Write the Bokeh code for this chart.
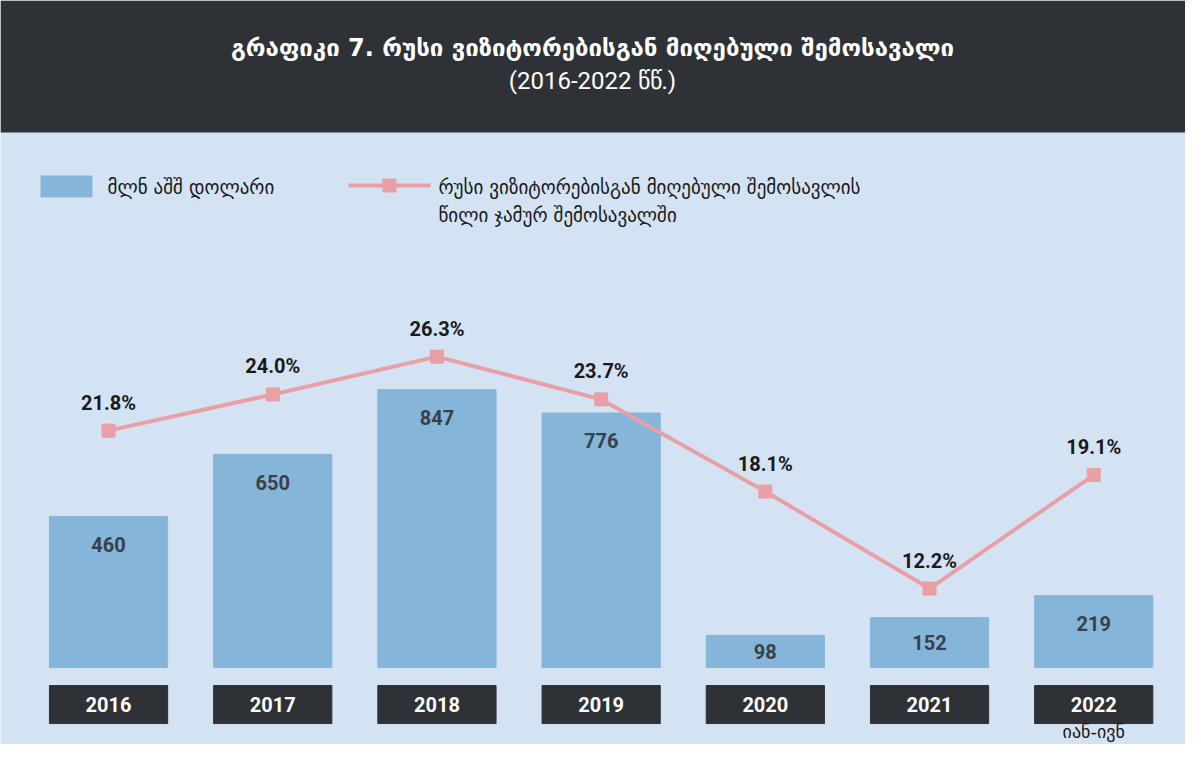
from bokeh.plotting import figure
from bokeh.models import Range1d, BoxAnnotation, Label, ColumnDataSource
from bokeh.embed import file_html
from bokeh.resources import INLINE
from bokeh.core.properties import value

years = ["2016", "2017", "2018", "2019", "2020", "2021", "2022"]
revenue = [460, 650, 847, 776, 98, 152, 219]
share = [21.8, 24.0, 26.3, 23.7, 18.1, 12.2, 19.1]
title = "გრაფიკი 7. რუსი ვიზიტორებისგან მიღებული შემოსავალი"
subtitle = "(2016-2022 წწ.)"
leg_bar = "მლნ აშშ დოლარი"
leg_line = ["რუსი ვიზიტორებისგან მიღებული შემოსავლის", "წილი ჯამურ შემოსავალში"]
note = "იან-ივნ"

W, H = 1185, 744
GEO = "DejaVu Sans"
NUM = "Roboto"
BG = "#d4e3f3"; DARK = "#2e3136"; BAR = "#85b6d9"; LINE = "#e8a0a6"

p = figure(width=W, height=H, output_backend="svg", toolbar_location=None,
           x_range=Range1d(-0.658, -0.658 + W / 164.2),
           y_range=Range1d(-234.8, 2033.5), min_border=0)
p.axis.visible = False
p.grid.visible = False
p.outline_line_color = None
p.background_fill_color = BG
p.border_fill_color = BG
p.extra_y_ranges = {"pct": Range1d(2.72, 47.95)}

x = list(range(len(years)))
src = ColumnDataSource(dict(
    x=x, rev=revenue, share=share, year=years,
    rev_lbl=[str(v) for v in revenue],
    rev_y=[max(v - 85, v / 2) for v in revenue],
    pct_lbl=[f"{v:.1f}%" for v in share],
    pct_y=[v + 1.7 for v in share],
    yb=[-113] * len(years)))

p.vbar(x="x", top="rev", bottom=0, width=0.72, color=BAR, source=src)
p.text(x="x", y="rev_y", text="rev_lbl", source=src, text_align="center",
       text_baseline="middle", text_font=value(NUM), text_font_size="20px",
       text_font_style="bold", text_color="#3a4048")
p.rect(x="x", y="yb", width=0.72, height=116, color=DARK, source=src)
p.text(x="x", y="yb", text="year", source=src, text_align="center",
       text_baseline="middle", text_font=value(NUM), text_font_size="20px",
       text_font_style="bold", text_color="white")

p.line(x="x", y="share", y_range_name="pct", source=src, line_color=LINE, line_width=4)
p.scatter(x="x", y="share", y_range_name="pct", source=src, marker="square",
          size=13, color=LINE)
p.text(x="x", y="pct_y", y_range_name="pct", text="pct_lbl", source=src,
       text_align="center", text_baseline="middle", text_font=value(NUM),
       text_font_size="20px", text_font_style="bold", text_color="#1a1a1a")

p.add_layout(BoxAnnotation(left=0, right=W, top=H, bottom=H - 132, left_units="screen",
             right_units="screen", top_units="screen", bottom_units="screen",
             fill_color=DARK, fill_alpha=1, line_color=None))
p.add_layout(Label(x=592, y=H - 47, x_units="screen", y_units="screen", text=title,
                   text_align="center", text_baseline="middle", text_font=GEO,
                   text_font_style="bold", text_font_size="24px", text_color="white"))
p.add_layout(Label(x=592, y=H - 80, x_units="screen", y_units="screen", text=subtitle,
                   text_align="center", text_baseline="middle", text_font=NUM,
                   text_font_size="24px", text_color="white"))

p.add_layout(BoxAnnotation(left=40, right=92, top=H - 175, bottom=H - 197,
             left_units="screen", right_units="screen", top_units="screen",
             bottom_units="screen", fill_color=BAR, fill_alpha=1, line_color=None))
p.add_layout(Label(x=107, y=H - 186, x_units="screen", y_units="screen", text=leg_bar,
                   text_baseline="middle", text_font=GEO, text_font_size="19px",
                   text_color="#1a1a1a"))
p.add_layout(BoxAnnotation(left=348, right=430, top=H - 183, bottom=H - 187,
             left_units="screen", right_units="screen", top_units="screen",
             bottom_units="screen", fill_color=LINE, fill_alpha=1, line_color=None))
p.add_layout(BoxAnnotation(left=382, right=396, top=H - 178, bottom=H - 192,
             left_units="screen", right_units="screen", top_units="screen",
             bottom_units="screen", fill_color=LINE, fill_alpha=1, line_color=None))
for i, t in enumerate(leg_line):
    p.add_layout(Label(x=438, y=H - 186 - 28 * i, x_units="screen", y_units="screen",
                       text=t, text_baseline="middle", text_font=GEO,
                       text_font_size="19px", text_color="#1a1a1a"))

p.text(x=[6], y=[-196], text=[note], text_align="center", text_baseline="middle",
       text_font=value(GEO), text_font_size="18px", text_color="#1a1a1a")

open("out.html", "w").write(file_html(p, INLINE))
